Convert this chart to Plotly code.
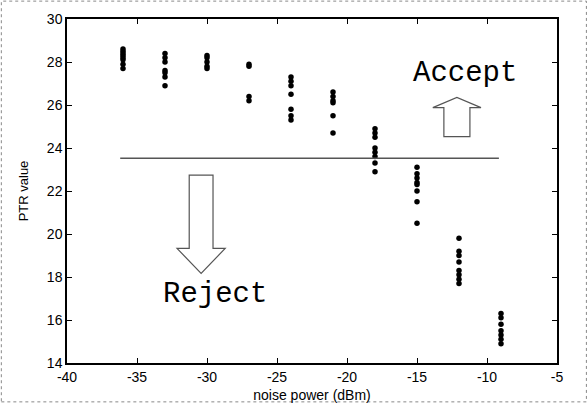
import plotly.graph_objects as go

# ---- data ----
noise_levels = [-36, -33, -30, -27, -24, -21, -18, -15, -12, -9]
ptr_m36 = [28.6, 28.5, 28.4, 28.3, 28.2, 28.1, 27.9, 27.7]
ptr_m33 = [28.4, 28.2, 28.0, 27.6, 27.5, 27.3, 26.9]
ptr_m30 = [28.3, 28.2, 28.0, 27.8, 27.7]
ptr_m27 = [27.9, 27.8, 26.4, 26.2]
ptr_m24 = [27.3, 27.1, 26.9, 26.5, 25.8, 25.5, 25.3]
ptr_m21 = [26.6, 26.4, 26.2, 26.1, 25.5, 24.7]
ptr_m18 = [24.9, 24.7, 24.5, 24.0, 23.8, 23.6, 23.3, 22.9]
ptr_m15 = [23.1, 22.8, 22.6, 22.4, 22.3, 22.0, 21.5, 20.5]
ptr_m12 = [19.8, 19.2, 19.0, 18.7, 18.3, 18.1, 17.9, 17.7]
ptr_m9 = [16.3, 16.1, 15.8, 15.5, 15.3, 15.1, 14.9]
ptr_groups = [ptr_m36, ptr_m33, ptr_m30, ptr_m27, ptr_m24,
              ptr_m21, ptr_m18, ptr_m15, ptr_m12, ptr_m9]
threshold = 23.52
x_ticks = [-40, -35, -30, -25, -20, -15, -10, -5]
x_tick_text = ["-40", "-35", "-30", "-25", "-20", "-15", "-10", "-5"]
y_ticks = [14, 16, 18, 20, 22, 24, 26, 28, 30]

xs, ys = [], []
for lvl, grp in zip(noise_levels, ptr_groups):
    xs += [lvl] * len(grp)
    ys += grp

fig = go.Figure()
fig.add_trace(go.Scatter(x=xs, y=ys, mode="markers",
                         marker=dict(color="black", size=5.5),
                         showlegend=False, hoverinfo="skip"))
# threshold line
fig.add_trace(go.Scatter(x=[-36.2, -9.15], y=[threshold, threshold], mode="lines",
                         line=dict(color="#555555", width=1.5),
                         showlegend=False, hoverinfo="skip"))


def arrow_path(cx, half_shaft, half_head, y_base, y_shoulder, y_tip):
    pts = [(cx - half_shaft, y_base), (cx - half_shaft, y_shoulder),
           (cx - half_head, y_shoulder), (cx, y_tip),
           (cx + half_head, y_shoulder), (cx + half_shaft, y_shoulder),
           (cx + half_shaft, y_base)]
    return "M " + " L ".join(f"{a},{b}" for a, b in pts) + " Z"


arrow_style = dict(type="path", xref="x", yref="y",
                   line=dict(color="#555555", width=1.2), fillcolor="rgba(0,0,0,0)")
# Accept arrow (up)
fig.add_shape(path=arrow_path(-12.15, 0.93, 1.72, 24.53, 25.88, 26.35), **arrow_style)
# Reject arrow (down)
fig.add_shape(path=arrow_path(-30.42, 0.85, 1.72, 22.74, 19.33, 18.17), **arrow_style)

mono = "Liberation Mono, Courier New, monospace"
fig.add_annotation(x=-11.54, y=27.45, text="Accept", showarrow=False,
                   font=dict(family=mono, size=29, color="black"))
fig.add_annotation(x=-29.43, y=17.2, text="Reject", showarrow=False,
                   font=dict(family=mono, size=29, color="black"))

# outer scanned frame
fig.add_shape(type="rect", xref="paper", yref="paper",
              x0=-0.134, x1=1.06, y0=-0.113, y1=1.052,
              line=dict(color="#888888", width=1, dash="dot"))

label_font = dict(family="Liberation Sans, Arial", size=14, color="black")
axis_common = dict(showline=True, linecolor="black", linewidth=1.5, mirror="ticks",
                   ticks="inside", ticklen=5, tickcolor="black", showgrid=False,
                   zeroline=False, tickfont=label_font, automargin=False)
fig.update_xaxes(range=[-40, -5], tickvals=x_ticks, ticktext=x_tick_text,
                 title=dict(text="noise power (dBm)",
                            font=dict(family="Liberation Sans, Arial", size=14, color="black")),
                 **axis_common)
fig.update_yaxes(range=[14, 30], tickvals=y_ticks,
                 title=dict(text="PTR value",
                            font=dict(family="Liberation Sans, Arial", size=13, color="black")),
                 **axis_common)

fig.update_layout(width=588, height=403, margin=dict(l=67, r=31, t=19, b=40),
                  plot_bgcolor="white", paper_bgcolor="white")

fig.write_html("out.html")
